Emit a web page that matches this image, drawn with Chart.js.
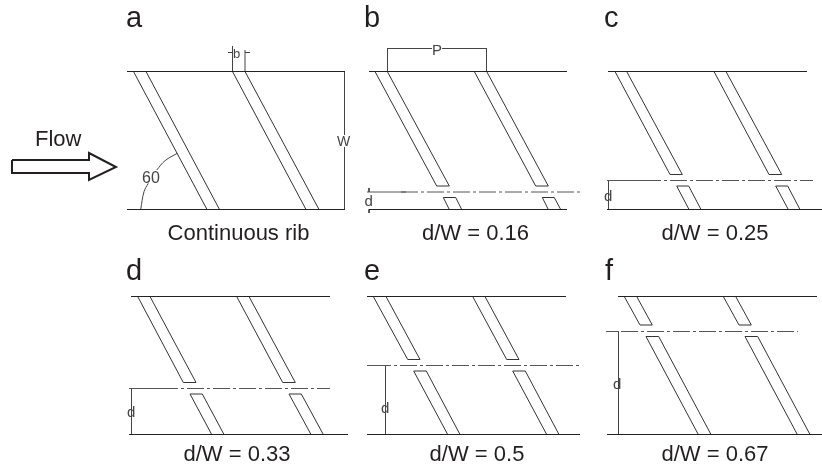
<!DOCTYPE html>
<html>
<head>
<meta charset="utf-8">
<style>
html, body { margin: 0; padding: 0; background: #fff; }
canvas { display: block; }
</style>
<script src="https://cdn.jsdelivr.net/npm/chart.js@4/dist/chart.umd.js"></script>
</head>
<body>
<canvas id="myChart" width="822" height="468"></canvas>
<script>
// panel letters and captions: text, x, y
const panelLetters = [["a",126,27],["b",364,27],["c",604,27],["d",126,280],["e",364,280],["f",605,280]];
const captions = [["Continuous rib",238.5,240],["d/W = 0.16",475.5,240],["d/W = 0.25",715,240],
                  ["d/W = 0.33",237,461],["d/W = 0.5",477,461],["d/W = 0.67",715,461]];
const flowLabel = [["Flow",35,145.5]];
// thin drafting labels
const dimLabels = [["b",233,58,13],["W",337,146,14],["60",142,182.5,16],["P",432,55,15],
                   ["d",364.5,206,15],["d",604,201,15],["d",127,417,15],["d",381,413,15],["d",613,389,15]];

// walls, one [x,y,x,y] per line
const walls = [
  [127,71.5,345,71.5],[127,209.5,345,209.5],
  [369,71.5,567,71.5],[369,209.5,567,209.5],
  [608,71.5,807,71.5],[607,209.5,822,209.5],
  [131,296.5,330,296.5],[129,434.5,348,434.5],
  [367,296.5,566,296.5],[367,434.5,580,434.5],
  [618,296.5,817,296.5],[607,434.5,822,434.5]
];

// rib outlines
const ribs = [
  // a
  [133.5,71.5,207,209.5],[146,71.5,219.5,209.5],[232.5,71.5,306,209.5],[245,71.5,319,209.5],
  // b
  [375,71.5,436.7,186,449.3,186,387.3,71.5],[474.3,71.5,535.7,186,548.3,186,486.7,71.5],
  [449.3,209.5,443.3,197.5,455.7,197.5,461.7,209.5],[548.3,209.5,542.3,197.5,554.3,197.5,560.7,209.5],
  // c
  [615,71.5,670,174.5,682.3,174.5,626.7,71.5],[714,71.5,769,174.5,781.7,174.5,726,71.5],
  [689,209.5,676.7,186,688.7,186,701,209.5],[788.3,209.5,775.7,186,787.7,186,800,209.5],
  // d
  [137.7,296.5,183.3,382.5,196,382.5,150,296.5],[236.7,296.5,282.7,382.5,295.3,382.5,249,296.5],
  [211.7,434.5,190,394,202.3,394,224,434.5],[311,434.5,289,394,301.3,394,323.3,434.5],
  // e
  [373.3,296.5,407.7,359.5,420,359.5,386,296.5],[472.7,296.5,506.7,359.5,519,359.5,485,296.5],
  [447.7,434.5,413.7,371,426.3,371,460,434.5],[546.7,434.5,512.7,371,525.3,371,559,434.5],
  // f
  [624.3,296.5,640,325,652.3,325,636.7,296.5],[723.3,296.5,739,325,751.3,325,735.7,296.5],
  [698.3,434.5,646,336.5,658.7,336.5,711,434.5],[797.3,434.5,745,336.5,757.7,336.5,810,434.5]
];

// centre lines: solid lead-in, then dash-dot part
const centreSolid = [[367,192,406,192],[607,180.5,645,180.5],[129,388.5,162,388.5],[367,365.5,375,365.5],[606,331.5,618,331.5]];
const centreDash = [[401,192,580,192],[644,180.5,813,180.5],[161,388.5,330,388.5],[374,365.5,580,365.5],[621,331.5,798,331.5]];

// dimension lines
const dims = [
  [232.5,71.5,232.5,46],[245,71.5,245,50],[228,52.5,232.5,52.5],[245,52.5,250,52.5],
  [344.5,71.5,344.5,135],[344.5,147,344.5,209.5],
  [387.5,71.5,387.5,48],[486.5,71.5,486.5,48],[387.5,48.5,432,48.5],[442,48.5,486.5,48.5],
  [369,188,369,192],[369,209.5,369,213],
  [608.5,180.5,608.5,209.5],[131.5,388.5,131.5,434.5],[385.5,365.5,385.5,434.5],[618.5,331.5,618.5,434.5]
];

const flowArrow = [12,160,89,160,89,153,116,167,89,180,89,173,12,173,12,160];
// the arc stops around the 60
const angleArcs = [[140.7,209.5,144,191.7,148.3,183.3],[156.7,170,165,160.7,177.3,153.3]];

// gör om [x,y,x,y] till punkter
function toPoints(flat) {
  let pts = [];
  for (let i = 0; i < flat.length; i += 2) {
    pts.push({x: flat[i], y: flat[i + 1]});
  }
  return pts;
}

function lineSets(list, color, width, dash, tension) {
  return list.map(function(flat) {
    return {
      data: toPoints(flat),
      showLine: true,
      borderColor: color,
      borderWidth: width,
      borderDash: dash || [],
      tension: tension || 0,
      pointRadius: 0
    };
  });
}

// text goes through the scales too
const textPlugin = {
  id: "textPlugin",
  afterDraw(chart) {
    const ctx = chart.ctx;
    const sx = chart.scales.x;
    const sy = chart.scales.y;
    function put(list, font, color, align) {
      ctx.fillStyle = color;
      ctx.textAlign = align;
      ctx.textBaseline = "alphabetic";
      list.forEach(function(t) {
        ctx.font = t[3] ? t[3] + "px " + font : font;
        ctx.fillText(t[0], sx.getPixelForValue(t[1]), sy.getPixelForValue(t[2]));
      });
    }
    ctx.save();
    put(panelLetters, "29px 'Liberation Sans'", "#231f20", "left");
    put(captions, "22px 'Liberation Sans'", "#231f20", "center");
    put(flowLabel, "22px 'Liberation Sans'", "#231f20", "left");
    put(dimLabels, "'Liberation Sans'", "#444444", "left");
    ctx.restore();
  }
};

new Chart("myChart", {
  type: "scatter",
  data: {
    datasets: [].concat(
      lineSets(walls, "#222222", 1),
      lineSets(ribs, "#333333", 1),
      lineSets(centreSolid, "#555555", 1),
      lineSets(centreDash, "#555555", 1, [17, 3, 3, 3]),
      lineSets(dims, "#444444", 1),
      lineSets([flowArrow], "#231f20", 2),
      lineSets(angleArcs, "#444444", 1, [], 0.4)
    )
  },
  options: {
    responsive: false,
    animation: false,
    layout: {padding: 0},
    scales: {
      x: {type: "linear", min: 0, max: 822, display: false},
      y: {type: "linear", min: 0, max: 468, reverse: true, display: false}
    },
    plugins: {legend: {display: false}, tooltip: {enabled: false}}
  },
  plugins: [textPlugin]
});
</script>
</body>
</html>
